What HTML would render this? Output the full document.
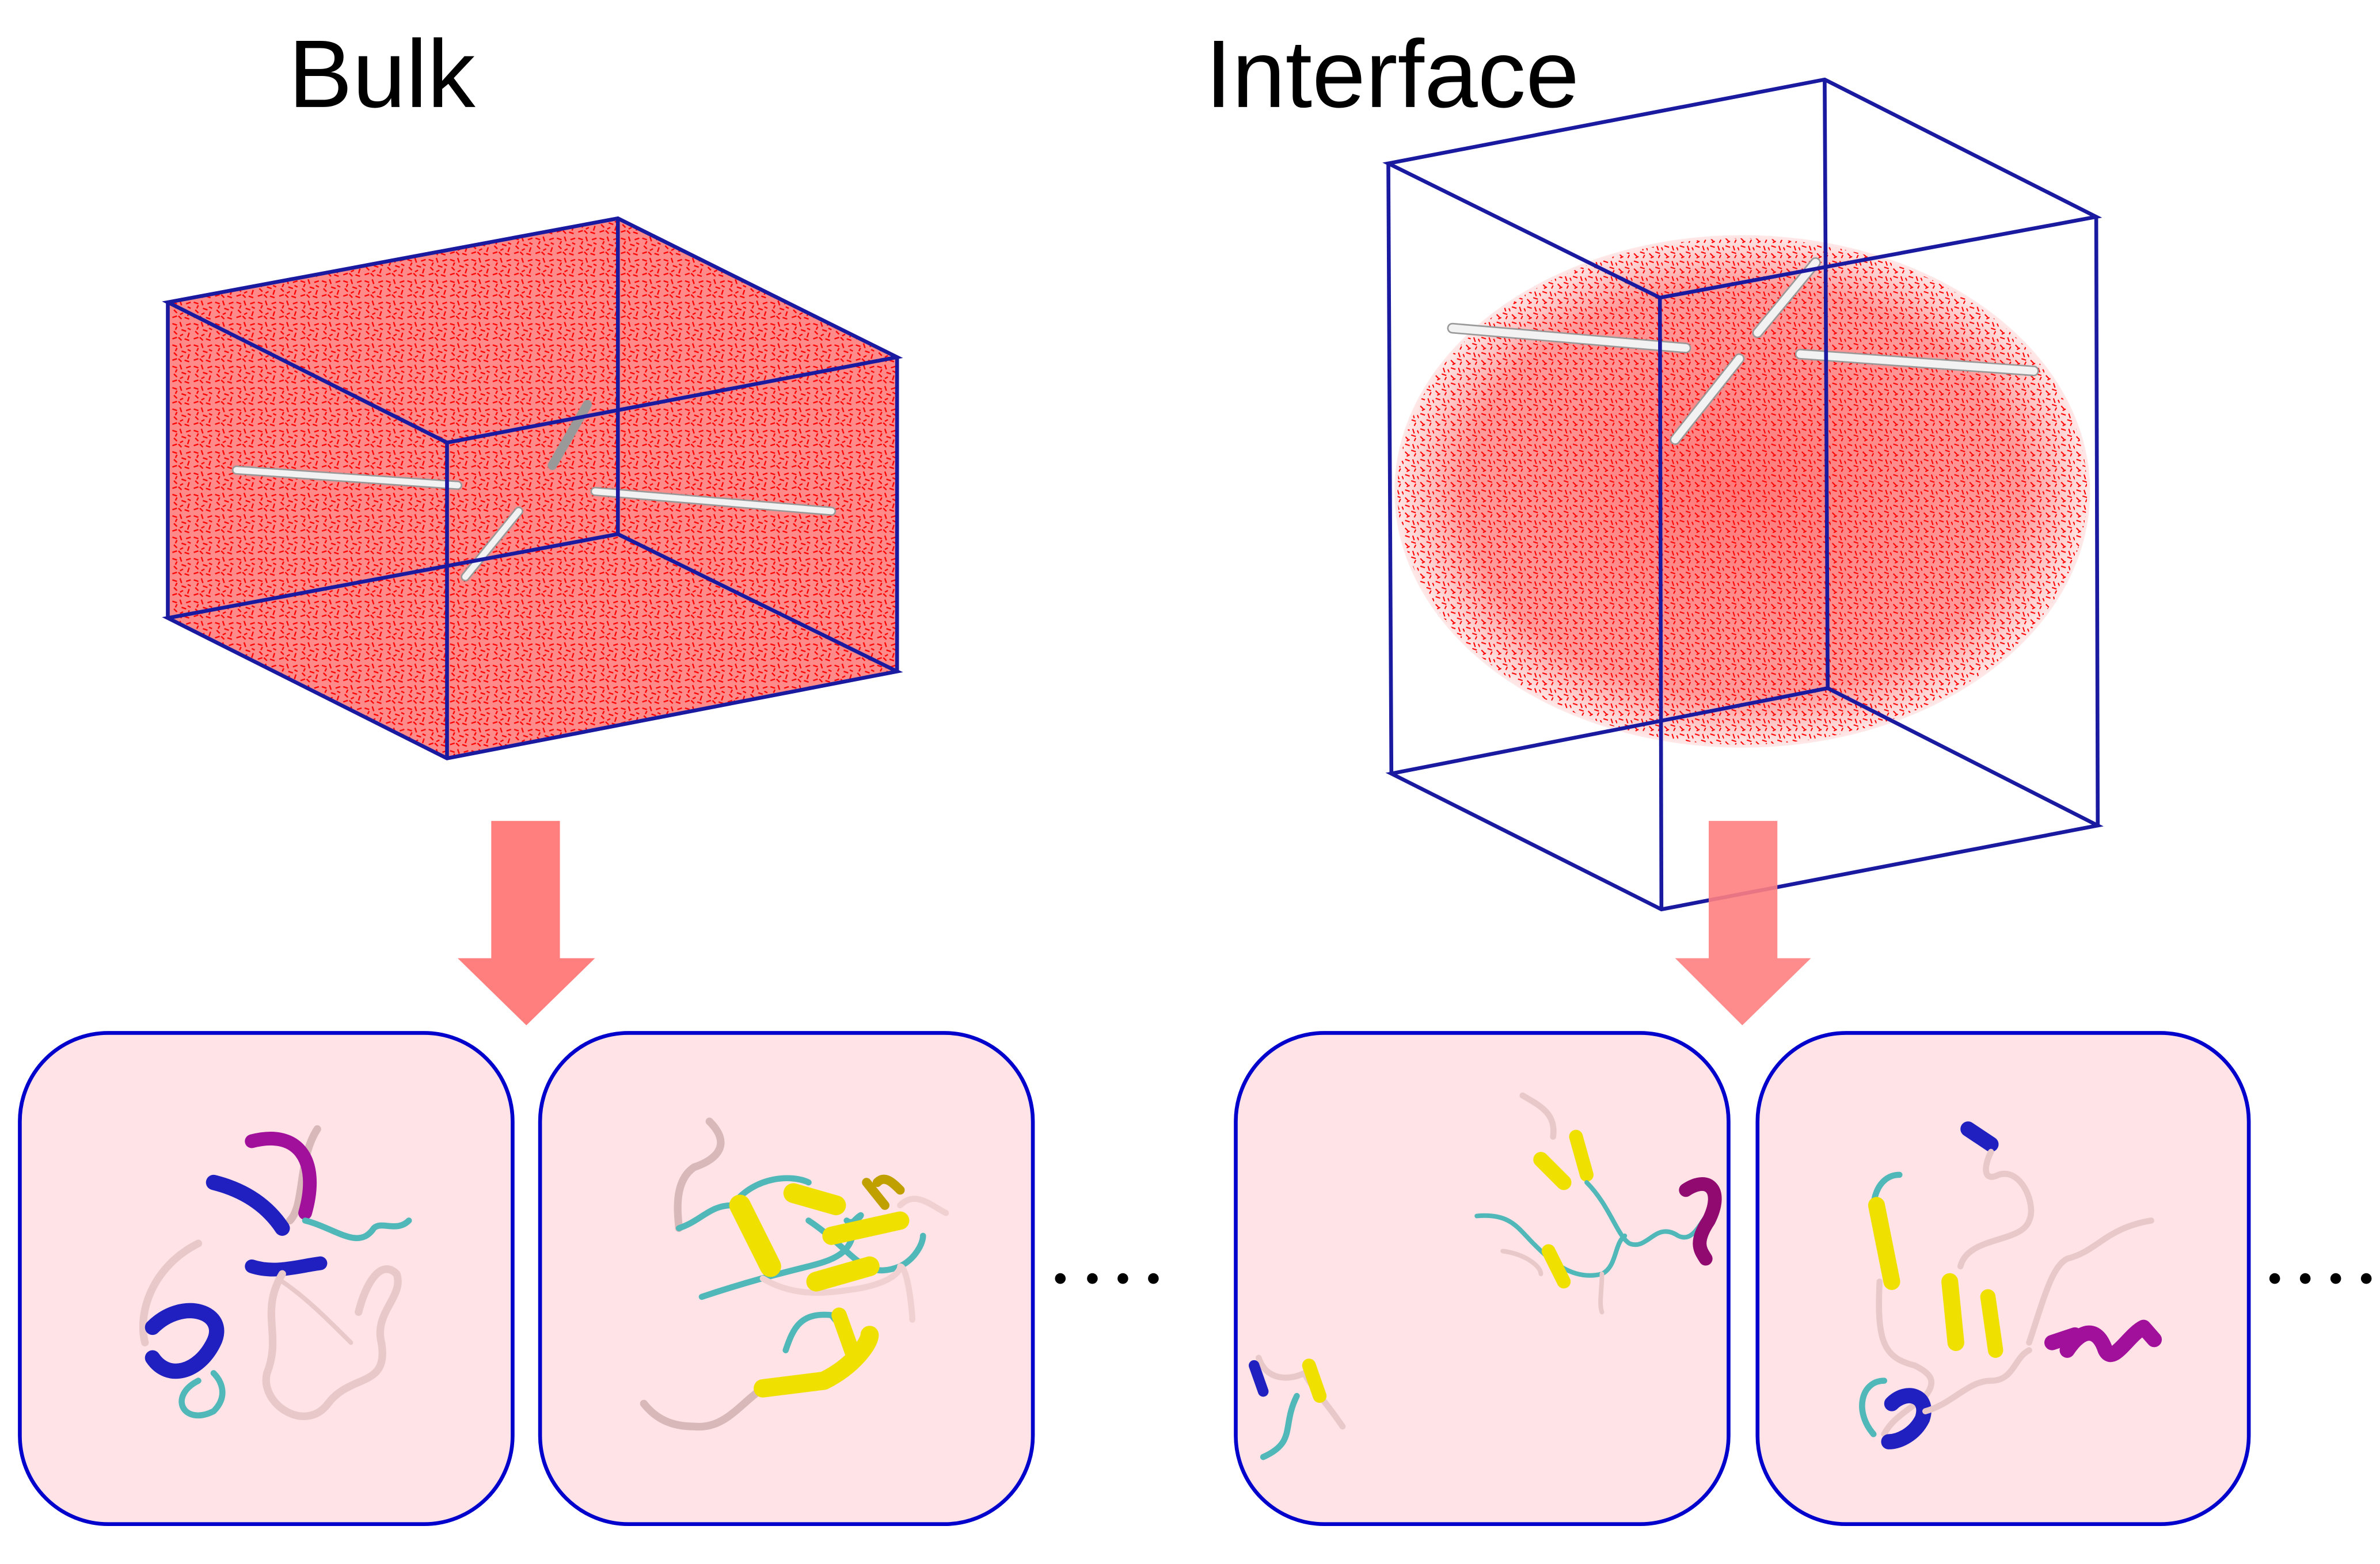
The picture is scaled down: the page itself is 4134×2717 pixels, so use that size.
<!DOCTYPE html>
<html><head><meta charset="utf-8"><style>
html,body{margin:0;padding:0;background:#fff;}
svg{display:block;}
</style></head><body>
<svg width="4134" height="2717" viewBox="0 0 1560 1025" xmlns="http://www.w3.org/2000/svg">
<defs>
<pattern id="w" width="14" height="14" patternUnits="userSpaceOnUse">
<g stroke="#ff0000" stroke-width="0.9" fill="none">
<path d="M1 2l3 1M6 1l1 3M10 3l3-1M2 7l2 2M7 6l3 1M12 8l-1 3M1 12l3-1M5 11l2 2M9 12l3 1M4 4l-1 2M11 5l2 1M8 9l-2 1"/>
</g>
</pattern>
<pattern id="w2" width="10" height="10" patternUnits="userSpaceOnUse">
<g stroke="#ff0000" stroke-width="0.8" fill="none">
<path d="M1 1l3 1M6 1l1 3M1 6l2 2M5 5l3 1M8 7l-1 2M2 9l2-1M9 2l1 2"/>
</g>
</pattern>
<radialGradient id="rg" cx="0.5" cy="0.5" r="0.5">
<stop offset="0" stop-color="#ff2020" stop-opacity="0.6"/>
<stop offset="0.8" stop-color="#ff2020" stop-opacity="0.45"/>
<stop offset="1" stop-color="#ff2020" stop-opacity="0.1"/>
</radialGradient>
</defs>

<text x="189" y="70" font-family="Liberation Sans, sans-serif" font-size="63" fill="#000">Bulk</text>
<text x="790" y="70" font-family="Liberation Sans, sans-serif" font-size="63" fill="#000">Interface</text>

<!-- Bulk box -->
<polygon points="110,198 405,143 588,234 588,440 293,497 110,405" fill="#ff8a8a"/>
<polygon points="110,198 405,143 588,234 588,440 293,497 110,405" fill="url(#w)"/>
<g stroke="#999" stroke-width="6" stroke-linecap="round">
<line x1="155" y1="308" x2="300" y2="318"/>
<line x1="390" y1="322" x2="545" y2="335"/>
<line x1="305" y1="378" x2="340" y2="335"/>
<line x1="362" y1="305" x2="385" y2="265"/>
</g>
<g stroke="#f2f2f2" stroke-width="4" stroke-linecap="round">
<line x1="155" y1="308" x2="300" y2="318"/>
<line x1="390" y1="322" x2="545" y2="335"/>
<line x1="305" y1="378" x2="340" y2="335"/>
</g>
<g fill="none" stroke="#1a1aa0" stroke-width="2.5">
<polygon points="110,198 405,143 588,234 293,290"/>
<polygon points="110,405 405,350 588,440 293,497"/>
<line x1="110" y1="198" x2="110" y2="405"/>
<line x1="405" y1="143" x2="405" y2="350"/>
<line x1="588" y1="234" x2="588" y2="440"/>
<line x1="293" y1="290" x2="293" y2="497"/>
</g>

<!-- Interface box -->
<ellipse cx="1142" cy="322" rx="228" ry="168" fill="url(#rg)"/>
<ellipse cx="1142" cy="322" rx="226" ry="166" fill="url(#w2)"/>
<g stroke="#999" stroke-width="7" stroke-linecap="round">
<line x1="952" y1="215" x2="1105" y2="228"/>
<line x1="1180" y1="232" x2="1333" y2="243"/>
<line x1="1098" y1="288" x2="1140" y2="235"/>
<line x1="1152" y1="218" x2="1190" y2="172"/>
</g>
<g stroke="#f2f2f2" stroke-width="5" stroke-linecap="round">
<line x1="952" y1="215" x2="1105" y2="228"/>
<line x1="1180" y1="232" x2="1333" y2="243"/>
<line x1="1098" y1="288" x2="1140" y2="235"/>
<line x1="1152" y1="218" x2="1190" y2="172"/>
</g>
<g fill="none" stroke="#1a1aa0" stroke-width="2.5">
<polygon points="910,107 1196,52 1374,142 1088,195"/>
<polygon points="912,507 1198,451 1375,541 1089,596"/>
<line x1="910" y1="107" x2="912" y2="507"/>
<line x1="1196" y1="52" x2="1198" y2="451"/>
<line x1="1374" y1="142" x2="1375" y2="541"/>
<line x1="1088" y1="195" x2="1089" y2="596"/>
</g>

<!-- Arrows -->
<polygon points="322,538 367,538 367,628 390,628 345,672 300,628 322,628" fill="#ff7f7f"/>
<polygon points="1120,538 1165,538 1165,628 1187,628 1142,672 1098,628 1120,628" fill="#ff7f7f" fill-opacity="0.9"/>

<!-- Panels -->
<g fill="#ffe3e6" stroke="#0000cc" stroke-width="2.5">
<rect x="13" y="677" width="323" height="322" rx="58"/>
<rect x="354" y="677" width="323" height="322" rx="58"/>
<rect x="810" y="677" width="323" height="322" rx="58"/>
<rect x="1152" y="677" width="322" height="322" rx="58"/>
</g>

<g fill="#000">
<circle cx="695" cy="838" r="3.5"/><circle cx="716" cy="838" r="3.5"/><circle cx="736" cy="838" r="3.5"/><circle cx="756" cy="838" r="3.5"/>
<circle cx="1491" cy="838" r="3.5"/><circle cx="1511" cy="838" r="3.5"/><circle cx="1531" cy="838" r="3.5"/><circle cx="1551" cy="838" r="3.5"/>
</g>

<!-- Proteins panel 1 -->
<g fill="none" stroke-linecap="round" stroke-linejoin="round">
<path d="M208,740 C195,760 200,790 190,800" stroke="#d8b8b8" stroke-width="5"/>
<path d="M165,748 C195,740 210,760 200,795" stroke="#a0109a" stroke-width="9"/>
<path d="M140,775 C160,780 175,790 185,805" stroke="#2020c0" stroke-width="10"/>
<path d="M200,800 C220,805 235,820 245,805 C250,800 260,808 268,800" stroke="#50b8b8" stroke-width="4"/>
<path d="M165,830 C180,835 195,830 210,828" stroke="#2020c0" stroke-width="9"/>
<path d="M130,815 C100,830 90,860 95,880" stroke="#e8c8c8" stroke-width="5"/>
<path d="M100,870 C120,850 150,860 140,880 C130,900 110,905 100,890" stroke="#2020c0" stroke-width="10"/>
<path d="M130,905 C110,915 120,935 140,925 C150,915 145,905 140,900" stroke="#50b8b8" stroke-width="4"/>
<path d="M185,835 C170,860 185,875 175,900 C170,920 200,940 215,920 C230,900 255,910 250,880 C245,860 265,850 260,835 C250,825 240,840 235,860" stroke="#e8c8c8" stroke-width="5"/>
<path d="M185,840 C200,850 215,865 230,880" stroke="#e8c8c8" stroke-width="3"/>
</g>

<!-- Proteins panel 2 -->
<g fill="none" stroke-linecap="round" stroke-linejoin="round">
<path d="M465,735 C480,750 470,760 455,765 C440,775 445,800 445,805" stroke="#d8b8b8" stroke-width="5"/>
<path d="M445,805 C460,800 465,790 480,790 C495,770 520,770 530,775" stroke="#50b8b8" stroke-width="4"/>
<path d="M460,850 C490,840 510,835 530,830 C550,825 560,820 560,800 C570,790 560,805 555,800" stroke="#50b8b8" stroke-width="4"/>
<path d="M530,800 C560,820 565,840 590,830 C600,825 605,815 605,810" stroke="#50b8b8" stroke-width="4"/>
<path d="M500,838 C520,850 540,848 560,845 C580,842 590,835 590,830 C595,830 598,860 598,865" stroke="#f0d0d0" stroke-width="4"/>
<path d="M485,790 L505,830" stroke="#f0e000" stroke-width="14"/>
<path d="M520,782 L548,790" stroke="#f0e000" stroke-width="13"/>
<path d="M545,810 L590,800" stroke="#f0e000" stroke-width="12"/>
<path d="M535,840 L570,830" stroke="#f0e000" stroke-width="13"/>
<path d="M568,775 L580,790 M575,775 C580,770 585,775 590,780" stroke="#c0a000" stroke-width="6"/>
<path d="M590,790 C600,780 610,790 620,795" stroke="#f0d0d0" stroke-width="4"/>
<path d="M422,920 C430,930 440,935 455,935 C475,937 485,920 500,910" stroke="#d8b8b8" stroke-width="5"/>
<path d="M500,910 L540,905 C560,895 570,880 570,875" stroke="#f0e000" stroke-width="12"/>
<path d="M515,885 C520,870 525,860 545,862 L558,878" stroke="#50b8b8" stroke-width="4"/>
<path d="M550,862 L560,890" stroke="#f0e000" stroke-width="10"/>
</g>

<!-- Proteins panel 3 -->
<g fill="none" stroke-linecap="round" stroke-linejoin="round">
<path d="M998,718 C1010,725 1020,730 1018,745" stroke="#e8c8c8" stroke-width="4"/>
<path d="M1010,760 L1025,775" stroke="#f0e000" stroke-width="10"/>
<path d="M1033,745 L1040,770" stroke="#f0e000" stroke-width="9"/>
<path d="M1040,775 C1055,790 1060,810 1068,815 C1080,820 1085,800 1100,810 C1110,815 1115,800 1120,795" stroke="#50b8b8" stroke-width="3"/>
<path d="M1105,780 C1120,770 1130,780 1120,800 C1110,815 1115,820 1118,825" stroke="#900a70" stroke-width="9"/>
<path d="M968,797 C990,795 995,805 1005,815 C1015,825 1030,840 1050,835 C1060,830 1058,815 1065,810" stroke="#50b8b8" stroke-width="3"/>
<path d="M1015,820 L1025,840" stroke="#f0e000" stroke-width="9"/>
<path d="M1050,835 C1050,845 1048,855 1050,860" stroke="#e8c8c8" stroke-width="3"/>
<path d="M985,820 C1000,822 1010,830 1010,835" stroke="#e8c8c8" stroke-width="3"/>
<path d="M825,890 C830,905 845,905 855,900 C860,910 870,920 880,935" stroke="#e8c8c8" stroke-width="4"/>
<path d="M822,895 L828,912" stroke="#2020c0" stroke-width="7"/>
<path d="M858,895 L865,915" stroke="#f0e000" stroke-width="9"/>
<path d="M850,915 C840,935 850,945 828,955" stroke="#50b8b8" stroke-width="4"/>
</g>

<!-- Proteins panel 4 -->
<g fill="none" stroke-linecap="round" stroke-linejoin="round">
<path d="M1290,740 L1305,750" stroke="#2020c0" stroke-width="10"/>
<path d="M1305,755 C1300,765 1300,775 1310,770 C1325,765 1335,790 1330,800 C1325,815 1290,810 1285,830" stroke="#e8c8c8" stroke-width="4"/>
<path d="M1245,770 C1230,770 1225,790 1230,800" stroke="#50b8b8" stroke-width="4"/>
<path d="M1230,790 L1240,840" stroke="#f0e000" stroke-width="11"/>
<path d="M1232,840 C1230,880 1235,890 1255,895 C1265,900 1270,905 1262,915 C1250,925 1240,930 1235,940" stroke="#e8c8c8" stroke-width="4"/>
<path d="M1278,840 L1282,880" stroke="#f0e000" stroke-width="11"/>
<path d="M1303,850 L1308,885" stroke="#f0e000" stroke-width="10"/>
<path d="M1235,905 C1220,905 1215,925 1228,940" stroke="#50b8b8" stroke-width="4"/>
<path d="M1240,920 C1250,910 1265,915 1260,930 C1255,940 1245,945 1238,945" stroke="#2020c0" stroke-width="10"/>
<path d="M1262,925 C1280,920 1290,905 1305,905 C1320,905 1320,890 1330,885" stroke="#e8c8c8" stroke-width="4"/>
<path d="M1330,880 C1340,850 1345,830 1355,825 C1375,820 1380,805 1410,800" stroke="#e8c8c8" stroke-width="4"/>
<path d="M1345,880 L1360,875 M1355,885 C1365,870 1375,870 1380,885 C1385,895 1395,875 1405,870 L1412,878" stroke="#a0109a" stroke-width="10"/>
</g>
</svg>
</body></html>
